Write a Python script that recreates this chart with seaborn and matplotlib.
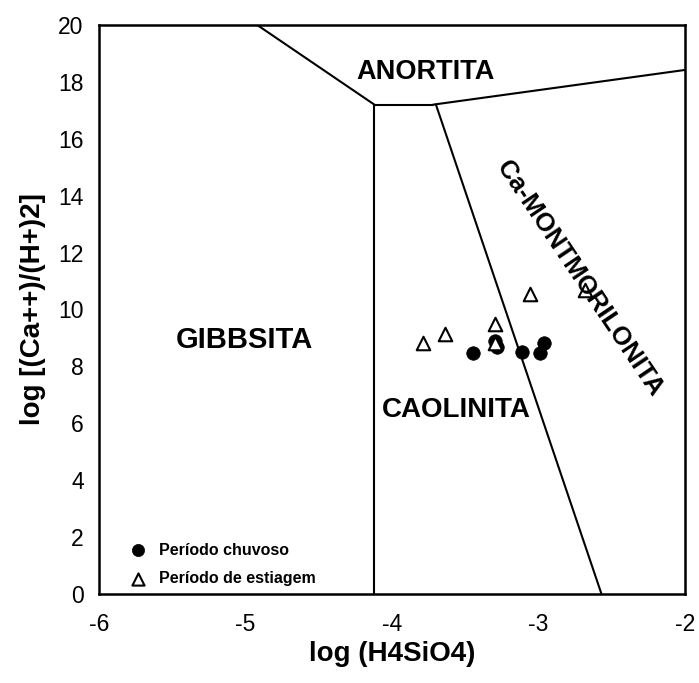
import matplotlib
matplotlib.use("Agg")
import matplotlib.pyplot as plt
import seaborn as sns
import pandas as pd

# Data points
chuvoso_x = [-3.45, -3.28, -3.30, -3.11, -2.99, -2.96]
chuvoso_y = [8.46, 8.67, 8.90, 8.52, 8.46, 8.83]
estiagem_x = [-3.79, -3.64, -3.30, -3.30, -3.06, -2.68]
estiagem_y = [8.83, 9.14, 9.48, 8.83, 10.54, 10.69]

# Stability field boundaries
gib_anort_x = [-4.92, -4.12]
gib_anort_y = [20.0, 17.2]
gib_caol_x = [-4.12, -4.12]
gib_caol_y = [17.2, 0.0]
caol_anort_x = [-4.12, -3.72]
caol_anort_y = [17.2, 17.2]
anort_mont_x = [-3.72, -2.0]
anort_mont_y = [17.2, 18.42]
caol_mont_x = [-3.70, -2.57]
caol_mont_y = [17.2, 0.0]

x_ticks = [-6, -5, -4, -3, -2]
y_ticks = [0, 2, 4, 6, 8, 10, 12, 14, 16, 18, 20]

sns.set_style("white")
plt.rcParams['font.family'] = ['Liberation Sans', 'DejaVu Sans']
plt.rcParams['axes.unicode_minus'] = False
plt.rcParams['text.color'] = 'black'
plt.rcParams['axes.labelcolor'] = 'black'

df = pd.DataFrame({
    "x": chuvoso_x + estiagem_x,
    "y": chuvoso_y + estiagem_y,
    "periodo": ["Período chuvoso"] * len(chuvoso_x) + ["Período de estiagem"] * len(estiagem_x),
})

fig = plt.figure(figsize=(6.99, 6.83), dpi=100)
ax = fig.add_axes([99/699, 1 - 594/683, (685-99)/699, (594-25)/683])

lw = 1.5
for xs, ys in [(gib_anort_x, gib_anort_y), (gib_caol_x, gib_caol_y),
               (caol_anort_x, caol_anort_y), (anort_mont_x, anort_mont_y),
               (caol_mont_x, caol_mont_y)]:
    ax.plot(xs, ys, color="black", lw=lw, zorder=2)

sub_c = df[df.periodo == "Período chuvoso"]
sub_e = df[df.periodo == "Período de estiagem"]
sns.scatterplot(data=sub_c, x="x", y="y", ax=ax, marker="o", s=95,
                color="black", edgecolor="black", linewidth=0.5, zorder=3,
                label="Período chuvoso")
sns.scatterplot(data=sub_e, x="x", y="y", ax=ax, marker="^", s=95,
                facecolor="white", edgecolor="black", linewidth=1.5, zorder=4,
                label="Período de estiagem")

ax.set_xlim(-6, -2)
ax.set_ylim(0, 20)
ax.set_xticks(x_ticks)
ax.set_xticklabels([str(t) for t in x_ticks])
ax.set_yticks(y_ticks)
ax.set_yticklabels([str(t) for t in y_ticks])
ax.tick_params(axis="both", direction="out", length=5, width=1, color="gray",
               labelsize=16.5, labelcolor="black", pad=6)
ax.tick_params(axis="x", pad=9)
for sp in ax.spines.values():
    sp.set_color("black")
    sp.set_linewidth(1.8)

ax.set_xlabel("log (H4SiO4)", fontsize=20, fontweight="bold", labelpad=3)
ax.set_ylabel("log [(Ca++)/(H+)2]", fontsize=20, fontweight="bold", labelpad=9)

tk = dict(fontweight="bold", ha="center", va="center", zorder=5, color="black")
ax.text(-5.01, 8.93, "GIBBSITA", fontsize=21, **tk)
ax.text(-3.56, 6.47, "CAOLINITA", fontsize=20, **tk)
ax.text(-3.77, 18.35, "ANORTITA", fontsize=19.5, **tk)
ax.text(-2.72, 11.1, "Ca-MONTMORILONITA", fontsize=18.5, rotation=-56,
        rotation_mode="anchor", **tk)

leg = ax.legend(loc="lower left", bbox_to_anchor=(0.02, -0.006), frameon=False,
                prop={"size": 11.5, "weight": "bold"}, handletextpad=0.3,
                labelspacing=0.85, markerscale=0.9, borderaxespad=0.3)

fig.savefig("out.png", dpi=100)
